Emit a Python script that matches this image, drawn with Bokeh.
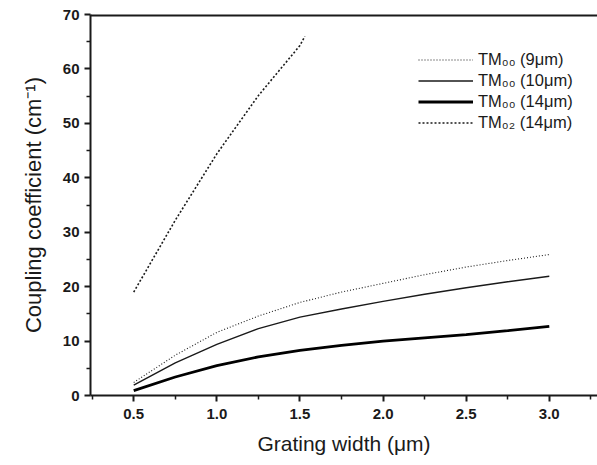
from bokeh.plotting import figure
from bokeh.models import Range1d, Legend, LegendItem, FixedTicker, NumeralTickFormatter, Title
from bokeh.embed import file_html
from bokeh.resources import INLINE

# Data
x_tm00_9 = [0.5, 0.75, 1.0, 1.25, 1.5, 1.75, 2.0, 2.25, 2.5, 2.75, 3.0]
y_tm00_9 = [2.4, 7.4, 11.6, 14.6, 17.1, 19.0, 20.6, 22.2, 23.6, 24.8, 25.9]
x_tm00_10 = [0.5, 0.75, 1.0, 1.25, 1.5, 1.75, 2.0, 2.25, 2.5, 2.75, 3.0]
y_tm00_10 = [1.9, 6.0, 9.4, 12.3, 14.4, 15.9, 17.3, 18.6, 19.8, 20.9, 21.9]
x_tm00_14 = [0.5, 0.75, 1.0, 1.25, 1.5, 1.75, 2.0, 2.25, 2.5, 2.75, 3.0]
y_tm00_14 = [0.9, 3.4, 5.5, 7.1, 8.3, 9.2, 10.0, 10.6, 11.2, 11.9, 12.7]
x_tm02_14 = [0.5, 0.75, 1.0, 1.25, 1.5, 1.53]
y_tm02_14 = [19.0, 32.2, 44.4, 55.1, 64.3, 66.0]

labels = ["TM₀₀ (9μm)", "TM₀₀ (10μm)", "TM₀₀ (14μm)", "TM₀₂ (14μm)"]
x_ticks = [0.5, 1.0, 1.5, 2.0, 2.5, 3.0]
y_ticks = [0, 10, 20, 30, 40, 50, 60, 70]
x_label = "Grating width (μm)"
y_label = "Coupling coefficient (cm⁻¹)"

FONT = "Liberation Sans"
INK = "#1a1a1a"

xr = Range1d(0.24, 3.29)
yr = Range1d(0, 70)
p = figure(width=597, height=465, output_backend="svg", toolbar_location=None,
           x_range=xr, y_range=yr,
           min_border_left=90, min_border_right=0, min_border_top=14, min_border_bottom=70,
           x_axis_label=x_label)
p.outline_line_color = None
p.grid.visible = False
p.background_fill_color = "white"
p.border_fill_color = "white"

r1 = p.line(x_tm00_9, y_tm00_9, line_color=INK, line_width=1.1, line_dash="1 2")
r2 = p.line(x_tm00_10, y_tm00_10, line_color=INK, line_width=1.4)
r3 = p.line(x_tm00_14, y_tm00_14, line_color="black", line_width=2.8)
r4 = p.line(x_tm02_14, y_tm02_14, line_color=INK, line_width=1.6, line_dash="2 2")

# top frame line along the upper edge of the plot area
p.line([xr.start, xr.end], [yr.end, yr.end], line_color=INK, line_width=4)

for ax in (p.xaxis[0], p.yaxis[0]):
    ax.axis_line_width = 2
    ax.axis_line_color = INK
    ax.major_tick_line_width = 2
    ax.major_tick_line_color = INK
    ax.minor_tick_line_width = 1.5
    ax.minor_tick_line_color = INK
    ax.major_tick_out = 6
    ax.major_tick_in = 0
    ax.minor_tick_out = 4
    ax.minor_tick_in = 0
    ax.major_label_text_font = FONT
    ax.major_label_text_font_size = "15px"
    ax.major_label_text_font_style = "bold"
    ax.major_label_text_color = INK
    ax.axis_label_text_font = FONT
    ax.axis_label_text_font_size = "21px"
    ax.axis_label_text_font_style = "normal"
    ax.axis_label_text_color = INK

p.xaxis[0].ticker = FixedTicker(ticks=x_ticks, minor_ticks=[0.25, 0.75, 1.25, 1.75, 2.25, 2.75, 3.25])
p.xaxis[0].formatter = NumeralTickFormatter(format="0.0")
p.xaxis[0].major_label_standoff = 7
p.xaxis[0].axis_label_standoff = 10
p.yaxis[0].ticker = FixedTicker(ticks=y_ticks, minor_ticks=[5, 15, 25, 35, 45, 55, 65])
p.yaxis[0].major_label_standoff = 5

ytitle = Title(text=y_label, align="center", standoff=28,
               text_font=FONT, text_font_size="22px", text_font_style="normal",
               text_color=INK)
p.add_layout(ytitle, "left")

legend = Legend(items=[LegendItem(label=labels[0], renderers=[r1]),
                       LegendItem(label=labels[1], renderers=[r2]),
                       LegendItem(label=labels[2], renderers=[r3]),
                       LegendItem(label=labels[3], renderers=[r4])],
                location=(328, 262), border_line_color=None, background_fill_alpha=0,
                padding=0, spacing=0, margin=0, glyph_width=55, glyph_height=21,
                label_height=21, label_standoff=5,
                label_text_font=FONT, label_text_font_size="16.5px", label_text_color=INK)
p.add_layout(legend, "center")

open("out.html", "w").write(file_html(p, INLINE))
